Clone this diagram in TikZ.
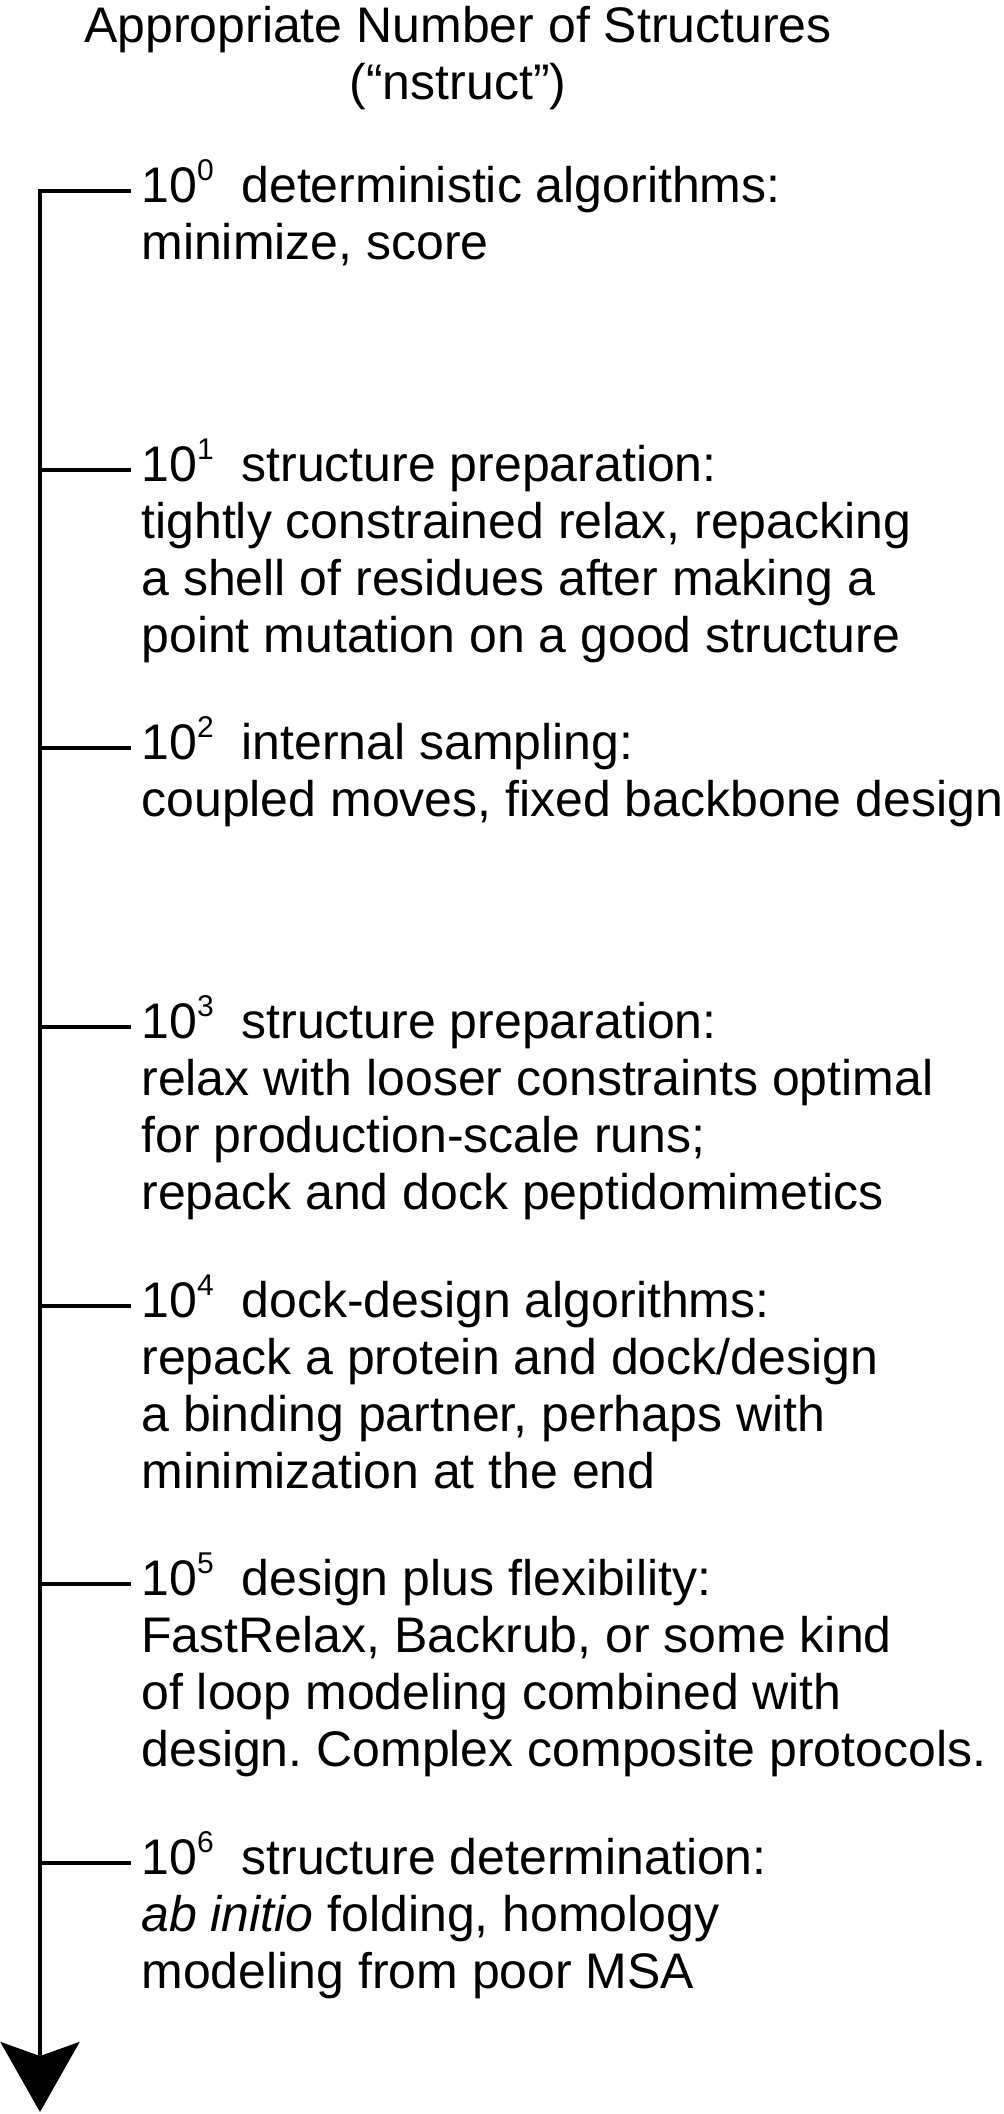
\documentclass[tikz,border=0pt]{standalone}
\usepackage{fontspec}
\setmainfont{Liberation Sans}
\usetikzlibrary{arrows.meta}
\frenchspacing
\newcommand{\tenpow}[1]{10\raisebox{11pt}{\fontsize{15pt}{15pt}\selectfont #1}\ \ }
\newcommand{\lines}[1]{\begin{tabular}[t]{@{}l@{}}#1\end{tabular}}

\begin{document}
\begin{tikzpicture}[x=0.5pt,y=-0.5pt,
  every node/.style={font=\fontsize{25pt}{28.5pt}\selectfont},
  entry/.style={anchor=base west,inner xsep=5pt,inner ysep=0pt},
  axis/.style={line width=1.8pt,-{Stealth[length=35pt,width=39.5pt,inset=7pt]}},
  tick/.style={line width=1.8pt}]
\useasboundingbox (0,0) rectangle (1004,2114);

\node[align=center,anchor=base] (title) at (458,100) {Appropriate Number of Structures\\(``nstruct'')};

% points on the axis
\coordinate (a0) at (40,191);
\coordinate (a1) at (40,470);
\coordinate (a2) at (40,748);
\coordinate (a3) at (40,1027);
\coordinate (a4) at (40,1306);
\coordinate (a5) at (40,1584);
\coordinate (a6) at (40,1863);
\coordinate (tip) at (40,2112);

\node[entry] (t0) at (131,202) {\lines{\tenpow{0}deterministic algorithms:\\minimize, score}};
\node[entry] (t1) at (131,481) {\lines{\tenpow{1}structure preparation:\\tightly constrained relax, repacking\\a shell of residues after making a\\point mutation on a good structure}};
\node[entry] (t2) at (131,759) {\lines{\tenpow{2}internal sampling:\\coupled moves, fixed backbone design}};
\node[entry] (t3) at (131,1038) {\lines{\tenpow{3}structure preparation:\\relax with looser constraints optimal\\for production-scale runs;\\repack and dock peptidomimetics}};
\node[entry] (t4) at (131,1317) {\lines{\tenpow{4}dock-design algorithms:\\repack a protein and dock/design\\a binding partner, perhaps with\\minimization at the end}};
\node[entry] (t5) at (131,1595) {\lines{\tenpow{5}design plus flexibility:\\FastRelax, Backrub, or some kind\\of loop modeling combined with\\design. Complex composite protocols.}};
\node[entry] (t6) at (131,1874) {\lines{\tenpow{6}structure determination:\\\textit{ab initio} folding, homology\\modeling from poor MSA}};

\draw[axis] (a0 -| t0.west) -- (a0) -- (tip);
\foreach \i in {1,...,6}
  \draw[tick] (a\i) -- (a\i -| t\i.west);
\end{tikzpicture}
\end{document}
